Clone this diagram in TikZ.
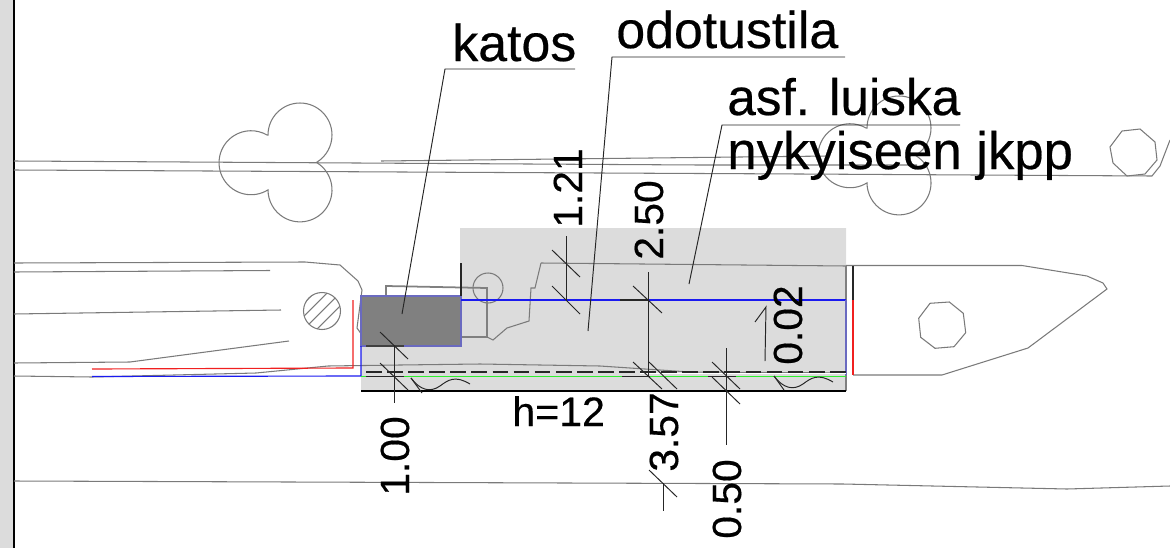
\documentclass[tikz,border=0pt]{standalone}
\usepackage{fontspec}
\setmainfont[Kerning=Off, FakeBold=0.4]{Liberation Sans}
\usepackage{xcolor}
\definecolor{areagray}{HTML}{DCDCDC}
\definecolor{roofgray}{HTML}{808080}
\definecolor{roofedge}{HTML}{6A6AC0}
\definecolor{planblue}{HTML}{1A1AF0}
\definecolor{plangreen}{HTML}{30F030}
\definecolor{planred}{HTML}{F02020}

\newcommand{\treeblob}[1]{%
    \draw[road, shift={#1}] (268,135) arc (180:419:32) arc (-59:180:32) arc (58:300:32) -- cycle;
}

\begin{document}
\begin{tikzpicture}[
        x=0.02cm, y=0.02cm, yscale=-1,
        road/.style={draw=black!52, line width=0.6pt},
        wall/.style={draw=black!50, line width=1pt},
        dimline/.style={draw=black!85, line width=0.55pt},
        bigtext/.style={font=\fontsize{29.5}{32}\selectfont, anchor=base west, inner sep=0pt},
        dimtext/.style={font=\fontsize{23.2}{26}\selectfont, anchor=base west, inner sep=0pt, rotate=90}
    ]
    \useasboundingbox (0,0) rectangle (1170,548);

    % Page edge
    \fill[areagray] (0,0) rectangle (14,548);
    \draw[black, line width=0.6pt] (14,0) -- (14,548);

    % Paved area
    \fill[areagray] (361,391) -- (846,391) -- (846,228) -- (460,228) -- (460,296) -- (361,296) -- cycle;

    % Roads
    \draw[road] (14,161) -- (700,165) -- (917,165);
    \draw[road] (381,161) -- (830,156);
    \draw[road] (14,170) -- (500,172.5) -- (800,174) -- (1152,176) -- (1160,166) -- (1170,140);
    \draw[road] (14,263) -- (305,262) -- (340,265) -- (358,281) -- (362,290) -- (357,328) -- (362,335);
    \draw[road] (14,272) -- (270,270.5);
    \draw[road] (14,314) -- (281,310);
    \draw[road] (14,363) -- (130,362) -- (289,341);
    \draw[road] (14,376) -- (92,377) -- (256,373) -- (328,366) -- (400,365) -- (480,364) -- (600,366) -- (690,372) -- (846,373);
    \draw[road] (853,375) -- (942,375) -- (1028,348) -- (1107,289) -- (1103,283) -- (1087,276) -- (1022,265.5) -- (846,265.5);
    \draw[road] (14,481) -- (843,484) -- (1067,489) -- (1170,486);
    \draw[road] (541,263) -- (846,266);

    % Trees and posts
    \treeblob{(0,0)}
    \treeblob{(599,-7)}
    \draw[road] (1122,131) -- (1140,129) -- (1155,142) -- (1157,160) -- (1145,174) -- (1127,176) -- (1113,163) -- (1110,147) -- cycle;
    \draw[road] (930,303.3) -- (949.3,302) -- (963.3,313.3) -- (965.7,332.7) -- (954,346.7) -- (935,348.3) -- (920.7,337.3) -- (918.7,318.3) -- cycle;
    \draw[road] (488,288) circle (15);
    \draw[road] (322,311) circle (18.5);
    \begin{scope}
        \clip (322,311) circle (18.5);
        \foreach \hx in {-26,-13,0,13,26} {
            \draw[road] (322+\hx-25,336) -- (322+\hx+25,286);
        }
    \end{scope}

    % Shelter
    \draw[wall] (386,296) -- (386,286) -- (487,288) -- (487,337) -- (461,337);
    \draw[road] (487,337) -- (493,340) -- (507,328) -- (529,321) -- (531,288) -- (535,288) -- (541,263);
    \draw[wall] (846,266) -- (846,391);
    \draw[fill=roofgray, draw=roofedge, line width=0.8pt] (361,296) rectangle (461,346);
    \draw[black!85, line width=0.6pt] (461,263) -- (461,296);
    \draw[black!85, line width=0.6pt] (853,266) -- (853,300);

    % Red, blue and green lines
    \draw[planred, line width=0.65pt] (92,369) -- (353,368) -- (353,300);
    \draw[planred, line width=0.65pt] (853,300) -- (853,375);
    \draw[planblue, line width=0.65pt] (92,376.5) -- (361,376) -- (361,346);
    \draw[planblue, line width=0.65pt] (461,300) -- (846,300);
    \draw[roofedge, line width=0.8pt] (846,300) -- (846,375);
    \draw[plangreen, line width=1pt] (361,376.5) -- (846,376.5);
    \draw[white, line width=0.6pt] (640,373.5) -- (846,373.5);
    \draw[black!85, line width=0.6pt, dash pattern=on 9pt off 3pt] (366,372) -- (846,372);
    \draw[black, line width=0.6pt] (361,391) -- (846,391);

    % Dark parts under the dimensions
    \draw[black!75, line width=0.8pt] (366,346) -- (404,346);
    \draw[black!85, line width=0.8pt] (366,376.5) -- (404,376.5);
    \draw[black!85, line width=0.8pt] (622,376.5) -- (650,376.5);
    \draw[black!85, line width=0.8pt] (708,376.5) -- (736,376.5);
    \draw[black!85, line width=0.8pt] (620,300) -- (648,300);

    % Ground marks
    \draw[dimline] (411,378) -- (422,393);
    \draw[dimline] (411,378) .. controls (420,390) and (430,393) .. (440,386) .. controls (448,380) and (455,375) .. (470,384);
    \draw[dimline] (774,376) -- (784,390);
    \draw[dimline] (774,376) .. controls (783,388) and (793,391) .. (803,384) .. controls (811,378) and (818,373) .. (833,382);

    % Dimension lines
    \draw[dimline] (394,346) -- (394,403);
    \draw[dimline] (380,332) -- (408,359);
    \draw[dimline] (380,363) -- (408,390);
    \draw[dimline] (566,236) -- (566,300);
    \draw[dimline] (552,250) -- (580,277);
    \draw[dimline] (552,286) -- (580,314);
    \draw[dimline] (648,272) -- (648,376);
    \draw[dimline] (633,286) -- (662,313);
    \draw[dimline] (633,362) -- (662,389);
    \draw[dimline] (649,362) -- (677,389);
    \draw[dimline] (663,483) -- (663,511);
    \draw[dimline] (649,470) -- (677,497);
    \draw[dimline] (726,348) -- (726,445);
    \draw[dimline] (712,362) -- (740,389);
    \draw[dimline] (712,377) -- (740,404);
    \draw[dimline] (765,361) -- (766,307) -- (755,322);

    % Labels
    \node[bigtext] (katos) at (452,61) {katos};
    \node[bigtext] (odotustila) at (616,48) {odotustila};
    \node[bigtext, font=\fontsize{29.2}{32}\selectfont] (luiska) at (727,115) {asf. luiska};
    \node[bigtext, font=\fontsize{30}{32}\selectfont] (jkpp) at (727,169) {nykyiseen jkpp};
    \node[font=\fontsize{23.4}{26}\selectfont, anchor=base west, inner sep=0pt] (korkeus) at (512,426) {h=12};
    \node[dimtext] (d121) at (582,228) {1.21};
    \node[dimtext] (d250) at (663,260) {2.50};
    \node[dimtext] (d002) at (802,365) {0.02};
    \node[dimtext] (d100) at (409,496) {1.00};
    \node[dimtext] (d357) at (678,472) {3.57};
    \node[dimtext] (d050) at (741,539) {0.50};

    % Leaders
    \coordinate (katosbend) at (445,69);
    \coordinate (katosend) at (575,69);
    \coordinate (katosroof) at (402,314);
    \coordinate (odotusbend) at (612,57);
    \coordinate (odotusend) at (845,57);
    \coordinate (odotusarea) at (588,331);
    \coordinate (luiskabend) at (722,125);
    \coordinate (luiskaend) at (960,125);
    \coordinate (luiskaarea) at (689,284);
    \draw[dimline] (katosend) -- (katosbend) -- (katosroof);
    \draw[dimline] (odotusend) -- (odotusbend) -- (odotusarea);
    \draw[dimline] (luiskaend) -- (luiskabend) -- (luiskaarea);

\end{tikzpicture}
\end{document}
